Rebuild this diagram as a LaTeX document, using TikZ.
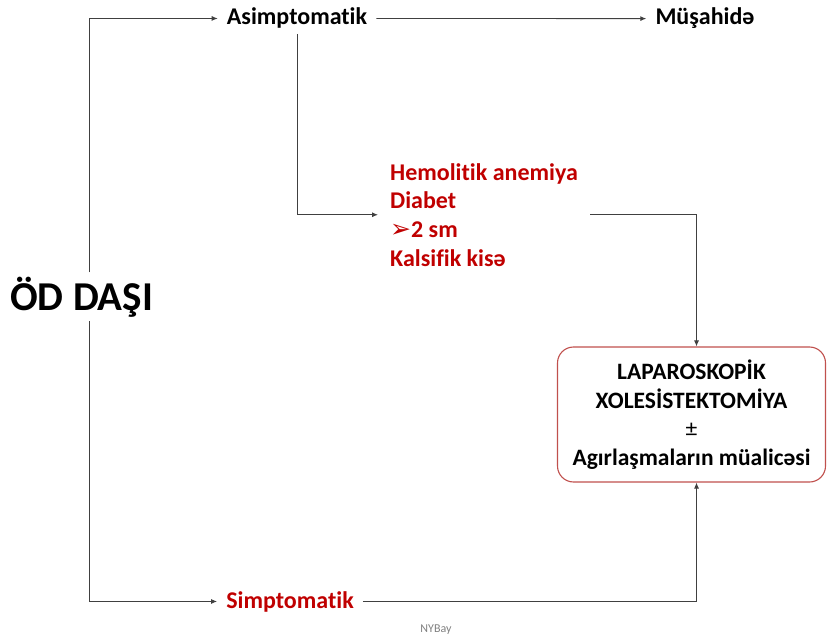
\documentclass[tikz,border=0pt]{standalone}
\usepackage{fontspec}
\setmainfont{Carlito}[Ligatures={NoCommon,NoDiscretionary,NoRare,NoContextual}]
\newfontfamily\dejavu{DejaVu Sans}
\usetikzlibrary{arrows.meta}
\definecolor{txtred}{RGB}{192,0,0}
\definecolor{boxred}{RGB}{192,80,77}
\definecolor{linegray}{RGB}{64,64,64}
\tikzset{
  conn/.style={draw=linegray, line width=0.9pt, -{Latex[length=6pt,width=5pt]}},
  lbl/.style={font=\fontsize{24}{28.7}\selectfont\bfseries, inner xsep=9pt, inner ysep=5pt},
  redlbl/.style={lbl, text=txtred},
  mainbox/.style={draw=boxred, line width=1.1pt, rounded corners=16pt, minimum width=268pt, minimum height=135pt, align=center, font=\fontsize{23.5}{28.5}\selectfont\bfseries}
}
\begin{document}
\begin{tikzpicture}[x=1pt,y=-1pt]
\useasboundingbox (0,0) rectangle (827,639);
\node[font=\fontsize{41}{45}\selectfont\bfseries, inner sep=4pt, anchor=base west] (odd) at (6,310) {ÖD DAŞI};
\node[lbl, anchor=base] (asym) at (297,25) {Asimptomatik};
\node[lbl, anchor=base] (mus) at (705,25) {Müşahidə};
\node[redlbl, align=left, inner xsep=12pt, anchor=north west] (risk) at (378,158) {Hemolitik anemiya\\Diabet\\{\dejavu\fontsize{25}{20}\selectfont ➢}2 sm\\Kalsifik kisə};
\node[mainbox] (box) at (691.5,414.5) {LAPAROSKOPİK\\XOLESİSTEKTOMİYA\\{\mdseries ±}\\Agırlaşmaların müalicəsi};
\node[redlbl, anchor=base] (simp) at (290,608) {Simptomatik};
\node[font=\fontsize{12}{14}\selectfont, text=gray, anchor=base] (nyb) at (436,632) {NYBay};
\draw[conn] ([xshift=8pt]odd.north) |- (asym.west);
\draw[conn] (asym.east) -- (mus.west);
\draw[conn] (asym.south) |- (risk.west);
\draw[conn] (risk.east) -| ([xshift=5pt]box.north);
\draw[conn] ([xshift=8pt]odd.south) |- (simp.west);
\draw[conn] (simp.east) -| ([xshift=5pt]box.south);
\end{tikzpicture}
\end{document}
